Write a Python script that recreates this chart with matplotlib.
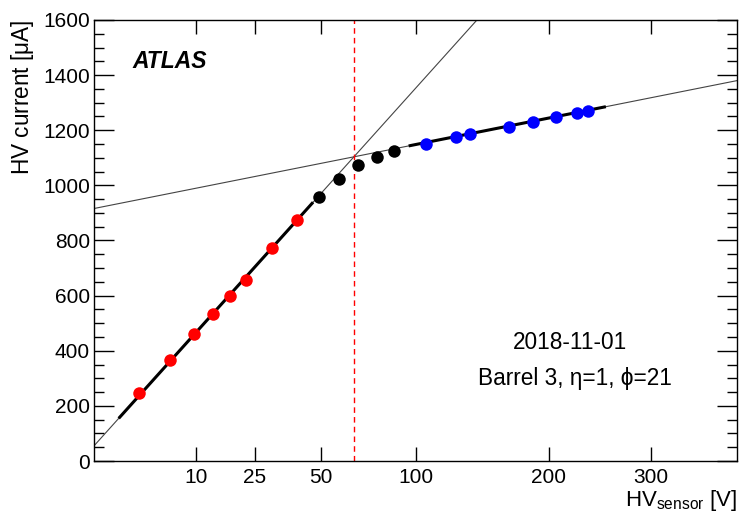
import matplotlib
matplotlib.use("Agg")
import matplotlib.pyplot as plt
import numpy as np

plt.rcParams['font.family'] = ['Liberation Sans', 'DejaVu Sans']

# measured points: HV_sensor [V] vs HV current [uA]
red_v = [2.0, 5.6, 9.7, 13.6, 17.9, 22.3, 30.7, 39.7]
red_i = [247, 365, 460, 533, 598, 656, 771, 875]
black_v = [48.8, 57.9, 67.5, 77.3, 87.1]
black_i = [958, 1023, 1073, 1102, 1125]
blue_v = [106.7, 126.5, 136.6, 166.8, 186.4, 206.6, 226.1, 236.3]
blue_i = [1150, 1175, 1185, 1211, 1230, 1248, 1261, 1271]

# linear fits in sqrt(V): I = a + b*sqrt(V)
steep_a, steep_b = 55.0, 129.7
flat_a, flat_b = 916.0, 23.2
steep_fit_range = (0.64, 46.0)
flat_fit_range = (96.7, 252.0)
v_depletion = 65.5

xticks = [10, 25, 50, 100, 200, 300]

fig = plt.figure(figsize=(7.39, 5.12), dpi=100)
ax = fig.add_axes([0.1272, 0.0996, 0.8701, 0.8614])
ax.set_xscale('function', functions=(np.sqrt, np.square))
ax.set_xlim(0, 400)
ax.set_ylim(0, 1600)


def fit(a, b, v):
    return a + b * np.sqrt(v)


v_all = np.linspace(0, 400, 400)
ax.plot(v_all, fit(steep_a, steep_b, v_all), color='#444444', lw=0.8, zorder=2)
ax.plot(v_all, fit(flat_a, flat_b, v_all), color='#444444', lw=0.8, zorder=2)

v_s = np.linspace(*steep_fit_range, 100)
ax.plot(v_s, fit(steep_a, steep_b, v_s), color='black', lw=2.2, zorder=3)
v_f = np.linspace(*flat_fit_range, 100)
ax.plot(v_f, fit(flat_a, flat_b, v_f), color='black', lw=2.2, zorder=3)

ax.axvline(v_depletion, color='red', lw=1, ls=(0, (4, 3)), zorder=2)

ax.plot(red_v, red_i, 'o', color='red', ms=9, mec='none', zorder=4)
ax.plot(black_v, black_i, 'o', color='black', ms=9, mec='none', zorder=4)
ax.plot(blue_v, blue_i, 'o', color='blue', ms=9, mec='none', zorder=4)

ax.set_xticks(xticks)
ax.set_xticklabels([str(t) for t in xticks])
ax.xaxis.set_minor_locator(matplotlib.ticker.NullLocator())
ax.set_yticks(np.arange(0, 1601, 200))
ax.yaxis.set_minor_locator(matplotlib.ticker.MultipleLocator(50))
ax.tick_params(axis='x', which='major', direction='in', length=10, width=1,
               top=True, labelsize=15, pad=5)
ax.tick_params(axis='y', which='major', direction='in', length=14.5, width=1,
               right=True, labelsize=15, pad=3)
ax.tick_params(axis='y', which='minor', direction='in', length=7.2, width=1,
               right=True)
for s in ax.spines.values():
    s.set_linewidth(1)

ax.set_ylabel(r'HV current [$\mathregular{\mu}$A]', fontsize=16.3, loc='top', labelpad=5)
ax.set_xlabel(r'HV$_{\mathregular{sensor}}$ [V]', fontsize=16, loc='right', labelpad=1)

ax.text(0.060, 0.905, 'ATLAS', transform=ax.transAxes, fontsize=16.5,
        fontweight='bold', fontstyle='italic', va='center', ha='left')
ax.text(0.740, 0.268, '2018-11-01', transform=ax.transAxes, fontsize=16.3,
        ha='center', va='center')
ax.text(0.748, 0.188, 'Barrel 3, η=1, ϕ=21', transform=ax.transAxes,
        fontsize=16.3, ha='center', va='center')

fig.savefig('out.png', dpi=100)
